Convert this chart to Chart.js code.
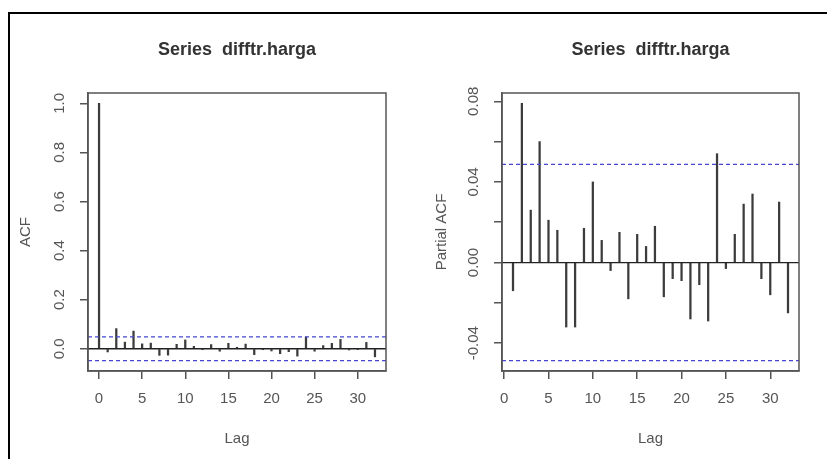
<!DOCTYPE html>
<html>
<head>
<meta charset="utf-8">
<script src="https://cdn.jsdelivr.net/npm/chart.js@4/dist/chart.umd.min.js"></script>
<style>
  body { margin: 0; background: #fff; overflow: hidden; width: 827px; height: 459px; position: relative; }
  #frame { position: absolute; left: 8px; top: 12px; width: 900px; height: 600px; border-left: 2px solid #000; border-top: 2px solid #000; }
  canvas { position: absolute; top: 0; }
  #acfChart { left: 0; }
  #pacfChart { left: 413px; }
</style>
</head>
<body>
<div id="frame"></div>
<canvas id="acfChart" width="413" height="459"></canvas>
<canvas id="pacfChart" width="414" height="459"></canvas>
<script>
// data
const acfLags = [0,1,2,3,4,5,6,7,8,9,10,11,12,13,14,15,16,17,18,19,20,21,22,23,24,25,26,27,28,29,30,31,32];
const acfValues = [1.000, -0.013, 0.082, 0.027, 0.072, 0.020, 0.023, -0.027, -0.026, 0.018, 0.036, 0.010, -0.004,
    0.017, -0.010, 0.022, 0.006, 0.019, -0.024, -0.004, -0.009, -0.020, -0.012, -0.030, 0.048, -0.010, 0.013,
    0.022, 0.038, -0.005, -0.002, 0.026, -0.033];

const pacfLags = [1,2,3,4,5,6,7,8,9,10,11,12,13,14,15,16,17,18,19,20,21,22,23,24,25,26,27,28,29,30,31,32];
const pacfValues = [-0.014, 0.079, 0.026, 0.060, 0.021, 0.016, -0.032, -0.032, 0.017, 0.040, 0.011, -0.004,
    0.015, -0.018, 0.014, 0.008, 0.018, -0.017, -0.008, -0.009, -0.028, -0.011, -0.029, 0.054, -0.003, 0.014,
    0.029, 0.034, -0.008, -0.016, 0.030, -0.025];

const ciLevel = 0.0487;

const xTicks = [0, 5, 10, 15, 20, 25, 30];
const acfYTicks = [0, 0.2, 0.4, 0.6, 0.8, 1.0];
const acfYLabels = ['0.0', '0.2', '0.4', '0.6', '0.8', '1.0'];
const pacfYTicks = [-0.04, -0.02, 0, 0.02, 0.04, 0.06, 0.08];
const pacfYLabels = ['-0.04', '', '0.00', '', '0.04', '', '0.08'];

const TEXT = '#555';
const FONT = '"Liberation Sans", Arial, sans-serif';

// R style range: extend 4% each side
function rRange(vals) {
    const lo = Math.min(...vals), hi = Math.max(...vals);
    const d = (hi - lo) * 0.04;
    return [lo - d, hi + d];
}

// box, title and rotated y labels like base R graphics
const rDecor = {
    id: 'rDecor',
    afterDraw(chart, args, opts) {
        const ctx = chart.ctx;
        const a = chart.chartArea;
        const ys = chart.scales.y;
        ctx.save();
        ctx.strokeStyle = '#555';
        ctx.lineWidth = 1.5;
        ctx.strokeRect(a.left, a.top, a.right - a.left, a.bottom - a.top);

        ctx.fillStyle = '#333';
        ctx.font = 'bold 18px ' + FONT;
        ctx.textAlign = 'center';
        ctx.textBaseline = 'middle';
        ctx.fillText(opts.title, (a.left + a.right) / 2, 50);

        ctx.fillStyle = TEXT;
        ctx.font = '15px ' + FONT;
        opts.values.forEach((v, i) => {
            const lab = opts.labels[i];
            if (!lab) return;
            ctx.save();
            ctx.translate(a.left - 28, ys.getPixelForValue(v));
            ctx.rotate(-Math.PI / 2);
            ctx.fillText(lab, 0, 0);
            ctx.restore();
        });
        ctx.restore();
    }
};

function makeChart(id, lags, values, yTicks, yLabels, yTitle, yTitlePad, yWidth, padRight) {
    const xr = rRange(lags);
    const yr = rRange(values.concat([ciLevel, -ciLevel]));
    const ctx = document.getElementById(id).getContext('2d');

    return new Chart(ctx, {
        type: 'bar',
        data: {
            datasets: [{
                type: 'bar',
                data: lags.map((l, i) => ({ x: l, y: values[i] })),
                backgroundColor: '#3c3c3c',
                barThickness: 1.6,
                grouped: false,
                order: 2
            }, {
                type: 'line',
                data: [{ x: xr[0], y: 0 }, { x: xr[1], y: 0 }],
                borderColor: '#222',
                borderWidth: 1.3,
                pointRadius: 0,
                order: 1
            }, {
                type: 'line',
                data: [{ x: xr[0], y: ciLevel }, { x: xr[1], y: ciLevel }],
                borderColor: '#4646d2',
                borderWidth: 1.2,
                borderDash: [4, 3],
                pointRadius: 0,
                order: 0
            }, {
                type: 'line',
                data: [{ x: xr[0], y: -ciLevel }, { x: xr[1], y: -ciLevel }],
                borderColor: '#4646d2',
                borderWidth: 1.2,
                borderDash: [4, 3],
                pointRadius: 0,
                order: 0
            }]
        },
        options: {
            responsive: false,
            animation: false,
            layout: { padding: { left: 0, right: padRight, top: 93, bottom: 0 } },
            plugins: {
                legend: { display: false },
                tooltip: { enabled: false },
                rDecor: { title: 'Series  difftr.harga', values: yTicks, labels: yLabels }
            },
            scales: {
                x: {
                    type: 'linear',
                    min: xr[0],
                    max: xr[1],
                    offset: false,
                    afterBuildTicks: s => { s.ticks = xTicks.map(v => ({ value: v })); },
                    afterFit: s => { s.height = 88; },
                    grid: { drawOnChartArea: false, offset: false, tickLength: 8, color: '#555', lineWidth: 1.5 },
                    border: { color: '#555', width: 1.5 },
                    ticks: { color: TEXT, font: { size: 15, family: FONT }, padding: 11, maxRotation: 0 },
                    title: { display: true, text: 'Lag', color: TEXT, font: { size: 15, family: FONT }, padding: { bottom: 11 } }
                },
                y: {
                    min: yr[0],
                    max: yr[1],
                    afterBuildTicks: s => { s.ticks = yTicks.map(v => ({ value: v })); },
                    afterFit: s => { s.width = yWidth; },
                    grid: { drawOnChartArea: false, tickLength: 8, color: '#555', lineWidth: 1.5 },
                    border: { color: '#555', width: 1.5 },
                    ticks: { display: false },
                    title: { display: true, text: yTitle, color: TEXT, font: { size: 15, family: FONT }, padding: { top: yTitlePad } }
                }
            }
        },
        plugins: [rDecor]
    });
}

makeChart('acfChart', acfLags, acfValues, acfYTicks, acfYLabels, 'ACF', 17, 88, 27);
makeChart('pacfChart', pacfLags, pacfValues, pacfYTicks, pacfYLabels, 'Partial ACF', 20, 89, 28);
</script>
</body>
</html>
